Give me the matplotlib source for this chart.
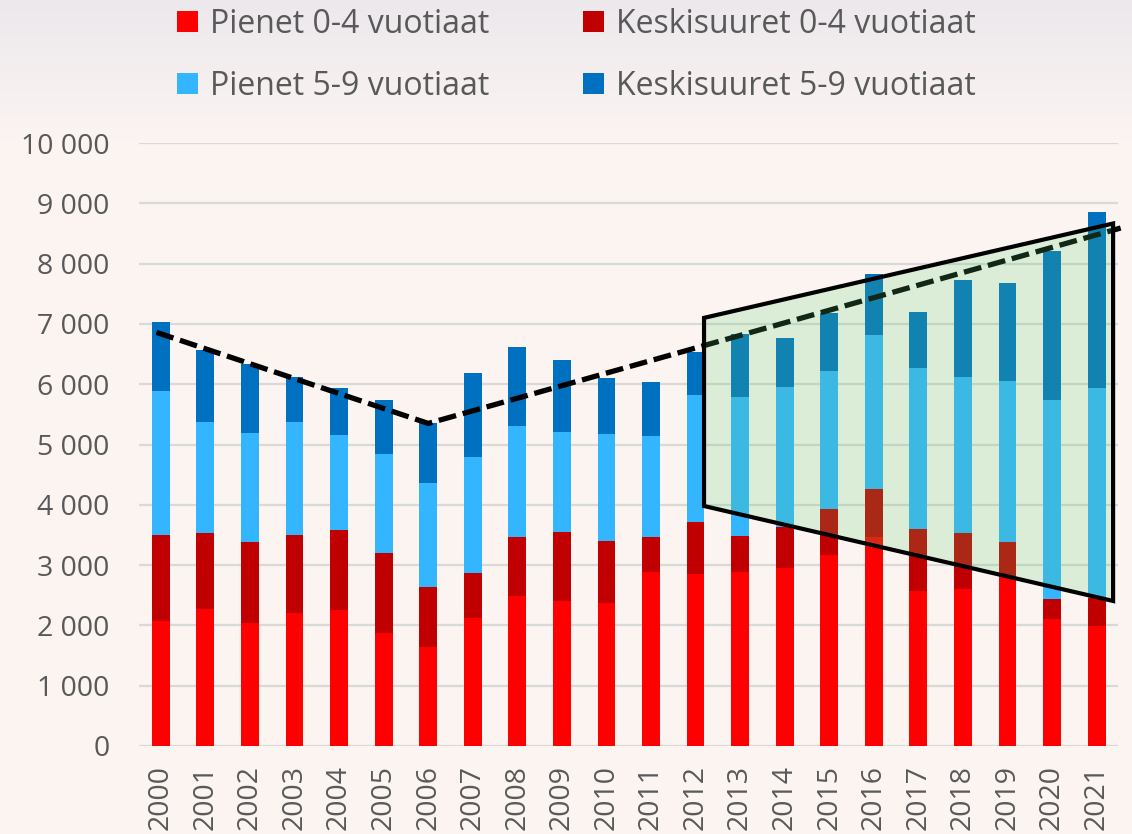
import numpy as np
import matplotlib
matplotlib.use("Agg")
import matplotlib.pyplot as plt
from matplotlib.patches import Polygon, Patch

# ---------------- data ----------------
years = [str(y) for y in range(2000, 2022)]
pienet_04 = [2080, 2270, 2040, 2210, 2255, 1875, 1635, 2125, 2490, 2405, 2375,
             2885, 2845, 2885, 2950, 3165, 3465, 2570, 2600, 2800, 2105, 1995]
keski_04 = [1425, 1255, 1340, 1295, 1330, 1330, 1000, 740, 970, 1145, 1025,
            575, 875, 600, 690, 765, 805, 1035, 940, 580, 335, 455]
pienet_59 = [2385, 1845, 1805, 1870, 1575, 1635, 1720, 1920, 1850, 1655, 1780,
             1680, 2100, 2295, 2315, 2290, 2550, 2665, 2575, 2675, 3300, 3485]
keski_59 = [1145, 1205, 1145, 740, 770, 895, 995, 1405, 1315, 1195, 915,
            890, 710, 1060, 805, 955, 1000, 930, 1620, 1630, 2465, 2925]

labels = ["Pienet 0-4 vuotiaat", "Keskisuuret 0-4 vuotiaat",
          "Pienet 5-9 vuotiaat", "Keskisuuret 5-9 vuotiaat"]
colors = ["#ff0000", "#c00000", "#33b5ff", "#0070c0"]

# trend line (x in category index units)
trend_x = [-0.1, 6.0, 21.54]
trend_y = [6860, 5350, 8590]

# highlighted trapezoid
poly_x = [12.19, 21.37, 21.37, 12.19]
poly_y = [7100, 8665, 2405, 3980]

yticks = list(range(0, 10001, 1000))

# ---------------- figure ----------------
W, H = 1132, 834
fig = plt.figure(figsize=(W / 100, H / 100), dpi=100)
fig.patch.set_facecolor("#fcf4f2")

# subtle background gradient at the top
bg = fig.add_axes([0, 0, 1, 1], zorder=-10)
grad = np.ones((H, 1, 3))
top = np.array([0.925, 0.910, 0.925])
base = np.array([0.988, 0.957, 0.949])
t = np.clip(np.arange(H) / 140.0, 0, 1)[:, None]
grad[:, 0, :] = top * (1 - t) + base * t
bg.imshow(grad, aspect="auto", extent=[0, 1, 0, 1], origin="upper")
bg.set_axis_off()

ax = fig.add_axes([139 / W, 1 - 746 / H, (1118 - 139) / W, (746 - 143) / H])
ax.set_facecolor("none")

x = np.arange(len(years))
bw = 0.4
bottom = np.zeros(len(years))
series = [pienet_04, keski_04, pienet_59, keski_59]
for vals, col, lab in zip(series, colors, labels):
    ax.bar(x, vals, bw, bottom=bottom, color=col, label=lab, zorder=2,
           linewidth=0)
    bottom += np.array(vals)

ax.plot(trend_x, trend_y, color="black", lw=3.8, ls=(0, (3.4, 1.3)),
        zorder=3, clip_on=False, dash_capstyle="butt")

poly = Polygon(np.column_stack([poly_x, poly_y]), closed=True,
               facecolor=(0.36, 0.80, 0.44, 0.2), edgecolor="black",
               linewidth=3.0, zorder=4, clip_on=False, joinstyle="miter")
ax.add_patch(poly)

ax.set_xlim(-0.49, 21.48)
ax.set_ylim(0, 10000)
ax.set_yticks(yticks)
ax.set_yticklabels([f"{v:,}".replace(",", " ") for v in yticks])
ax.set_xticks(x)
ax.set_xticklabels(years, rotation=90)
ax.yaxis.grid(True, color="#d9d9d9", lw=1.6, zorder=0)
ax.set_axisbelow(True)
for s in ax.spines.values():
    s.set_visible(False)
ax.tick_params(axis="both", length=0, labelsize=20.5, colors="#595959",
               labelfontfamily="Open Sans")
ax.tick_params(axis="y", pad=21)
ax.tick_params(axis="x", pad=14)

handles = [Patch(facecolor=c, edgecolor="none") for c in colors]
order = [0, 2, 1, 3]
leg = fig.legend([handles[i] for i in order], [labels[i] for i in order],
                 ncol=2, loc="upper left", bbox_to_anchor=(148 / W, 1.025),
                 frameon=False, handlelength=0.66, handleheight=0.66,
                 handletextpad=0.38, columnspacing=2.93, labelspacing=0.9,
                 prop={"family": "Open Sans", "size": 23})
for txt in leg.get_texts():
    txt.set_color("#595959")

fig.savefig("out.png", dpi=100, facecolor=fig.get_facecolor())
